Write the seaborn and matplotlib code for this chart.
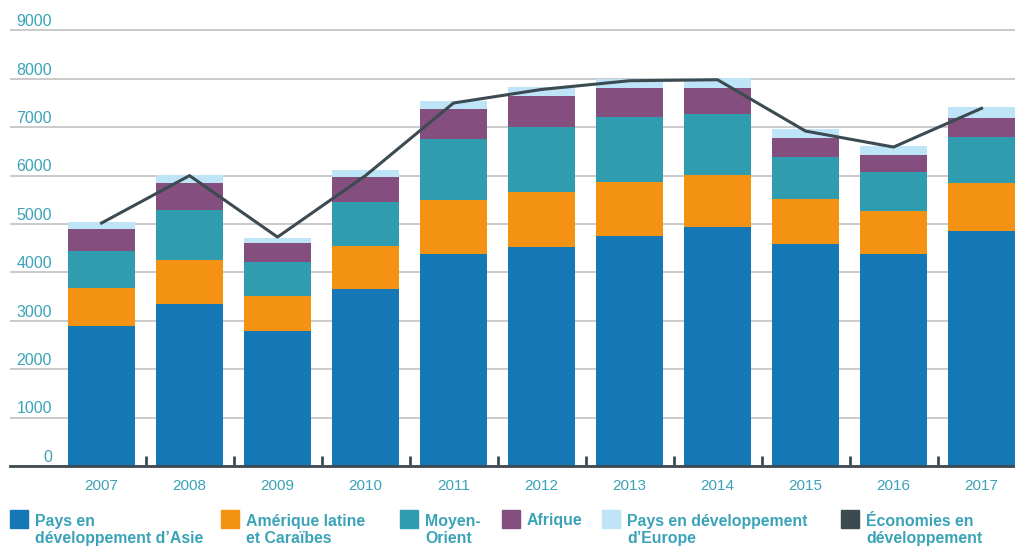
import numpy as np
import pandas as pd
import seaborn as sns
import matplotlib.pyplot as plt
from matplotlib.patches import Rectangle
from matplotlib.transforms import blended_transform_factory

# values
years = ['2007', '2008', '2009', '2010', '2011', '2012', '2013', '2014', '2015', '2016', '2017']
asie = [2890, 3350, 2790, 3660, 4380, 4520, 4760, 4940, 4590, 4380, 4850]
amerique = [790, 910, 720, 890, 1120, 1140, 1110, 1070, 920, 890, 990]
moyen_orient = [760, 1030, 700, 900, 1250, 1340, 1340, 1260, 870, 800, 950]
afrique = [460, 560, 390, 520, 620, 650, 600, 540, 390, 350, 410]
europe = [140, 160, 120, 150, 170, 180, 190, 210, 190, 190, 210]
economies = [5020, 6000, 4730, 6000, 7500, 7780, 7960, 7980, 6920, 6590, 7390]
y_ticks = [0, 1000, 2000, 3000, 4000, 5000, 6000, 7000, 8000, 9000]

labels = ['Pays en\ndéveloppement d’Asie', 'Amérique latine\net Caraïbes', 'Moyen-\nOrient',
          'Afrique', 'Pays en développement\nd’Europe', 'Économies en\ndéveloppement']
colors = ['#1577b4', '#f39213', '#309caf', '#844f7e', '#bee4f8', '#3c4a51']
text_col = '#3aa3b8'
dark = '#3c4a51'

W, H = 1015, 546
plt.rcParams['font.family'] = ['Liberation Sans', 'DejaVu Sans']
fig = plt.figure(figsize=(W / 100, H / 100), dpi=100)
ax = fig.add_axes([10 / W, 80 / H, 1005 / W, 466 / H])

df = pd.DataFrame({'year': years, 'asie': asie, 'amerique': amerique,
                   'moyen_orient': moyen_orient, 'afrique': afrique, 'europe': europe})
series = ['asie', 'amerique', 'moyen_orient', 'afrique', 'europe']
cum = df[series].cumsum(axis=1)

# stacked bars: draw the totals first, then each lower level on top
for col, c in reversed(list(zip(series, colors[:5]))):
    sns.barplot(x=df['year'], y=cum[col], color=c, width=0.76, saturation=1,
                linewidth=0, ax=ax)

sns.lineplot(x=np.arange(len(years)), y=economies, color=dark, linewidth=2.2, ax=ax)

ax.set_xlim(-1.04, 10.38)
ax.set_ylim(0, 9628)
ax.set_xlabel('')
ax.set_ylabel('')

ax.set_yticks(y_ticks)
ax.set_yticklabels([])
ax.tick_params(axis='y', length=0)
ax.yaxis.grid(True, color='#c6c6c6', linewidth=1.3)
ax.set_axisbelow(True)
trans = blended_transform_factory(ax.transAxes, ax.transData)
for v in y_ticks:
    ax.text(42 / 1005, v + 85, str(v), transform=trans, ha='right', va='baseline',
            fontsize=11.5, color=text_col)

ax.set_xticks(range(len(years)))
ax.set_xticklabels(years)
ax.tick_params(axis='x', which='major', length=0, pad=9, labelsize=11, labelcolor=text_col)
ax.set_xticks(np.arange(0.5, len(years) - 1, 1), minor=True)
ax.tick_params(axis='x', which='minor', direction='in', length=7, width=2, color=dark)

for s in ['top', 'right', 'left']:
    ax.spines[s].set_visible(False)
ax.spines['bottom'].set_color(dark)
ax.spines['bottom'].set_linewidth(2)

# legend below the plot (baseline of the last line is placed)
leg_x = [10, 221, 400, 502, 602, 841]
for x0, lab, c in zip(leg_x, labels, colors):
    fig.add_artist(Rectangle((x0 / W, 1 - 528 / H), 18 / W, 18 / H, color=c,
                             transform=fig.transFigure))
    base = 525 + 18 * lab.count('\n')
    fig.text((x0 + 25) / W, 1 - base / H, lab, ha='left', va='baseline', fontsize=11.4,
             fontweight='bold', color=text_col)

fig.savefig('out.png', dpi=100)
